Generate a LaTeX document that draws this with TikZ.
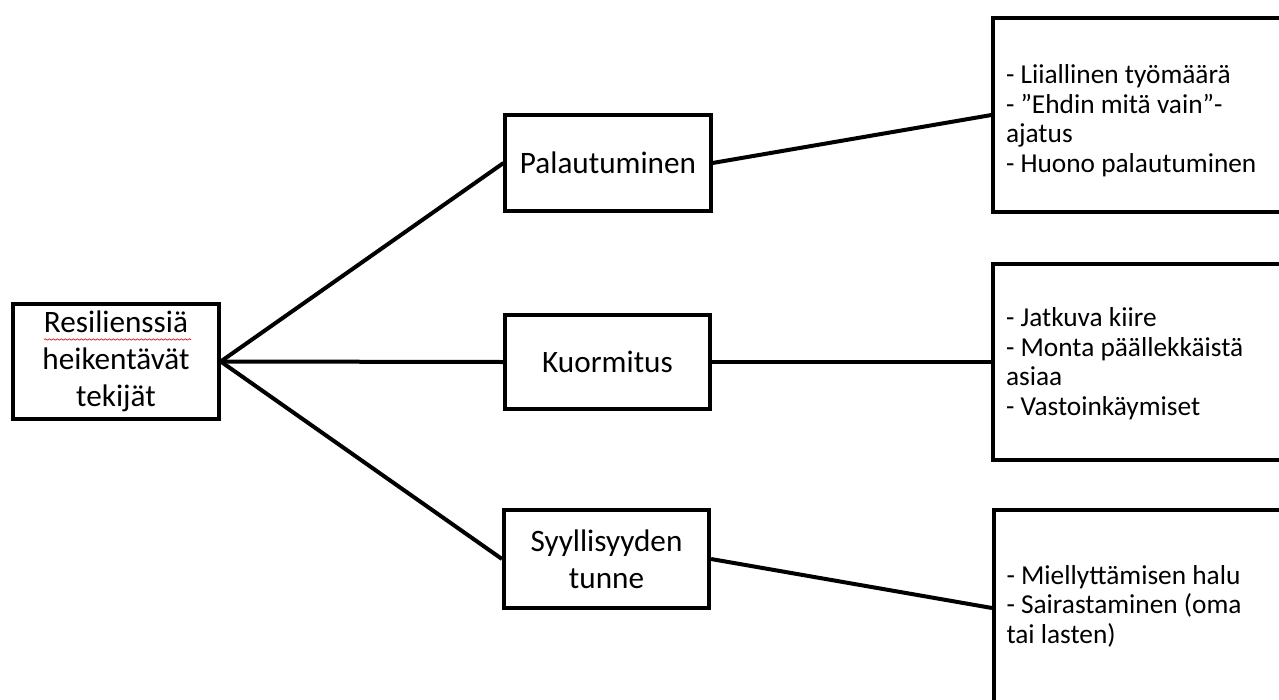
\documentclass[tikz,border=0pt]{standalone}
\usepackage{fontspec}
\setmainfont{Carlito}
\usetikzlibrary{decorations.pathmorphing}

% a left-aligned block of list lines with fixed line spacing,
% lowered by #1 without changing its reported size
\newcommand\itemlines[2]{{\fontsize{20.5pt}{22.2pt}\selectfont
  \raisebox{-#1}[\height][\depth]{\begin{tabular}{@{}l@{}}#2\end{tabular}}}}

\tikzset{
  every picture/.style={x=0.75pt,y=-0.75pt},
  framebox/.style={draw=black, line width=3pt, fill=white, inner sep=0pt,
    align=center, font=\fontsize{23.4pt}{27.5pt}\selectfont},
  listbox/.style={draw=black, line width=3pt, fill=white, inner xsep=9.4pt, inner ysep=0pt,
    minimum width=229.9pt, text width=211.1pt, align=flush left},
  link/.style={line width=3pt, black}
}

\begin{document}
\begin{tikzpicture}
  \useasboundingbox (0,0) rectangle (1279,700);
  \clip (0,0) rectangle (1279,700);

  % root
  \node[framebox, minimum width=154.1pt, minimum height=86.3pt] (root) at (116,361.5)
    {Resilienssiä\\heikentävät\\tekijät};
  % spell-check squiggle under the first word
  \draw[red!85!black, line width=0.5pt, decorate,
        decoration={snake, amplitude=0.5pt, segment length=3pt}] (44,339.5) -- (191,339.5);

  % middle column
  \node[framebox, minimum width=153.8pt, minimum height=71.6pt] (pal) at (608,163) {Palautuminen};
  \node[framebox, minimum width=153.8pt, minimum height=70.5pt] (kuo) at (607.5,362) {Kuormitus};
  \node[framebox, minimum width=153.8pt, minimum height=72.8pt] (syy) at (606.5,559) {Syyllisyyden\\tunne};

  % right column
  \node[listbox, minimum height=144.8pt] (l1) at (1146.75,115)
    {\itemlines{5.25pt}{- Liiallinen työmäärä\\- ”Ehdin mitä vain”-\\ajatus\\- Huono palautuminen}};
  \node[listbox, minimum height=147pt] (l2) at (1146.75,362)
    {\itemlines{2.25pt}{- Jatkuva kiire\\- Monta päällekkäistä\\asiaa\\- Vastoinkäymiset}};
  \node[listbox, minimum height=146.3pt] (l3) at (1147.25,608)
    {\itemlines{0pt}{- Miellyttämisen halu\\- Sairastaminen (oma\\tai lasten)}};

  % connectors
  \draw[link] (root.east) -- (pal.west);
  \draw[link] (root.east) -- (kuo.west);
  \draw[link] (root.east) -- (syy.west);
  \draw[link] (pal.east) -- (l1.west);
  \draw[link] (kuo.east) -- (l2.west);
  \draw[link] (syy.east) -- (l3.west);
\end{tikzpicture}
\end{document}
